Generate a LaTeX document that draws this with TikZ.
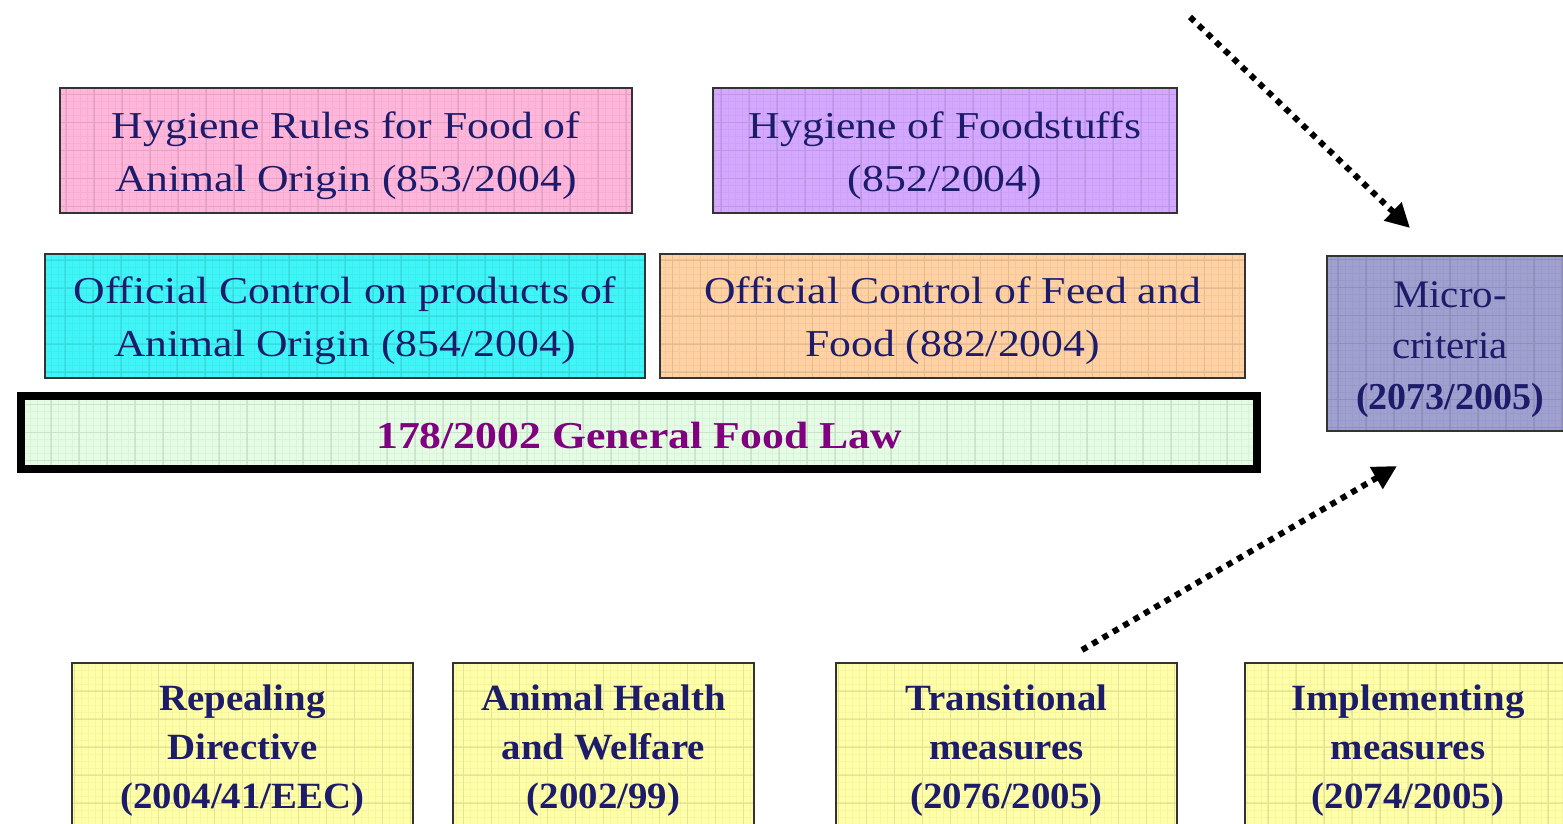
\documentclass[tikz,border=0pt]{standalone}
\usepackage{fontspec}
\setmainfont{Liberation Serif}
\newfontfamily\widefont[FakeStretch=1.15]{Liberation Serif}
\newfontfamily\midfont[FakeStretch=1.05]{Liberation Serif}
\usetikzlibrary{arrows.meta}
\definecolor{pinkc}{HTML}{FFB6DA}
\definecolor{purpc}{HTML}{D4A8FF}
\definecolor{cyanc}{HTML}{40F5F8}
\definecolor{orangec}{HTML}{FFD1A3}
\definecolor{greenc}{HTML}{E3FCE3}
\definecolor{microc}{HTML}{A0A0D0}
\definecolor{yellowc}{HTML}{FFFFA8}
\definecolor{navy}{HTML}{1C1C6B}
\definecolor{lawpurple}{HTML}{800080}
\tikzset{
  gridfill/.style={path picture={
    \draw[black, opacity=0.035, line width=0.8pt, step=7pt]
      (path picture bounding box.south west) grid (path picture bounding box.north east);
    \draw[black, opacity=0.07, line width=1.2pt, step=28pt]
      (path picture bounding box.south west) grid (path picture bounding box.north east);
  }},
  topbox/.style={draw=black!80, line width=1.5pt, gridfill, inner sep=0pt},
  toptext/.style={inner sep=0pt, align=center, text=navy, font=\widefont\fontsize{38}{53}\selectfont},
  lawbox/.style={draw=black, line width=8pt, gridfill, inner sep=0pt},
  lawtext/.style={inner sep=0pt, text=lawpurple, font=\widefont\fontsize{38}{46}\selectfont\bfseries},
  microbox/.style={draw=black!80, line width=2pt, gridfill, inner sep=0pt},
  microtext/.style={inner sep=0pt, align=center, text=navy, font=\midfont\fontsize{39}{51}\selectfont},
  lowbox/.style={draw=black!80, line width=1.5pt, gridfill, inner sep=0pt, fill=yellowc},
  lowtext/.style={inner sep=0pt, align=center, text=navy, font=\midfont\fontsize{37}{49}\selectfont\bfseries},
  dotarrow/.style={line width=6pt, dash pattern=on 6pt off 6pt,
    -{Triangle[length=24pt,width=24pt]}}
}
\begin{document}
\begin{tikzpicture}[x=1pt,y=-1pt]
\useasboundingbox (0,0) rectangle (1563,824);
\clip (0,0) rectangle (1563,824);
\fill[white] (0,0) rectangle (1563,824);

\node[topbox, fill=pinkc, minimum width=572pt, minimum height=125pt] (h853) at (346,150.5) {};
\node[toptext] (h853t) at ([yshift=-5pt]h853.center) {Hygiene Rules for Food of\\Animal Origin (853/2004)};
\node[topbox, fill=purpc, minimum width=464pt, minimum height=125pt] (h852) at (945,150.5) {};
\node[toptext] (h852t) at ([yshift=-5pt]h852.center) {Hygiene of Foodstuffs\\(852/2004)};
\node[topbox, fill=cyanc, minimum width=600pt, minimum height=124pt] (c854) at (345,316) {};
\node[toptext] (c854t) at ([yshift=-5pt]c854.center) {Official Control on products of\\Animal Origin (854/2004)};
\node[topbox, fill=orangec, minimum width=585pt, minimum height=124pt] (c882) at (952.5,316) {};
\node[toptext] (c882t) at ([yshift=-5pt]c882.center) {Official Control of Feed and\\Food (882/2004)};
\node[lawbox, fill=greenc, minimum width=1236pt, minimum height=73pt] (gfl) at (639,432.5) {};
\node[lawtext] (gflt) at ([yshift=-3pt]gfl.center) {178/2002 General Food Law};
\node[microbox, fill=microc, minimum width=246pt, minimum height=175pt] (micro) at (1450,343.5) {};
\node[microtext] (microt) at ([yshift=-6pt]micro.center) {Micro-\\criteria\\{\rmfamily\bfseries\fontsize{38}{51}\selectfont (2073/2005)}};

\node[lowbox, minimum width=341pt, minimum height=168pt] (rep) at (242.5,747) {};
\node[lowtext] (rept) at ([yshift=-4pt]rep.center) {Repealing\\Directive\\(2004/41/EEC)};
\node[lowbox, minimum width=301pt, minimum height=168pt] (ahw) at (603.5,747) {};
\node[lowtext] (ahwt) at ([yshift=-4pt]ahw.center) {Animal Health\\and Welfare\\(2002/99)};
\node[lowbox, minimum width=341pt, minimum height=168pt] (trans) at (1006.5,747) {};
\node[lowtext] (transt) at ([yshift=-4pt]trans.center) {Transitional\\measures\\(2076/2005)};
\node[lowbox, minimum width=326pt, minimum height=168pt] (impl) at (1408,747) {};
\node[lowtext] (implt) at ([yshift=-4pt]impl.center) {Implementing\\measures\\(2074/2005)};

\coordinate (a1s) at (1190,17);
\coordinate (a1e) at (1410,228);
\coordinate (a2s) at (1082,650);
\coordinate (a2e) at (1397,466);
\draw[dotarrow] (a1s) -- (a1e);
\draw[dotarrow] (a2s) -- (a2e);
\end{tikzpicture}
\end{document}
